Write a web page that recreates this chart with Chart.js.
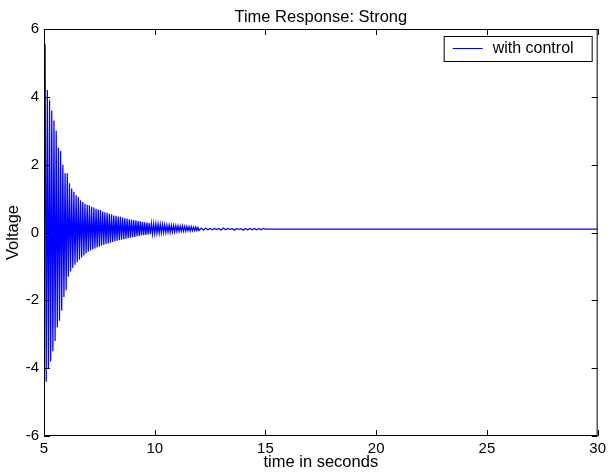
<!DOCTYPE html>
<html>
<head>
<meta charset="utf-8">
<script src="https://cdn.jsdelivr.net/npm/chart.js@4.4.1/dist/chart.umd.min.js"></script>
<style>
  html, body { margin: 0; padding: 0; background: #fff; }
</style>
</head>
<body>
<canvas id="timeResponseChart" width="610" height="472"></canvas>
<script>
const chartTitle = 'Time Response: Strong';
const seriesLabel = 'with control';
const xAxisLabel = 'time in seconds';
const yAxisLabel = 'Voltage';
const xTicks = [5, 10, 15, 20, 25, 30];
const yTicks = [-6, -4, -2, 0, 2, 4, 6];

// sample times (s)
const time = [
  5, 5.05, 5.1, 5.15, 5.2, 5.25, 5.3, 5.35, 5.4, 5.45,
  5.5, 5.55, 5.6, 5.65, 5.7, 5.75, 5.8, 5.85, 5.9, 5.95,
  6, 6.05, 6.1, 6.15, 6.2, 6.25, 6.3, 6.35, 6.4, 6.45,
  6.5, 6.55, 6.6, 6.65, 6.7, 6.75, 6.8, 6.85, 6.9, 6.95,
  7, 7.05, 7.1, 7.15, 7.2, 7.25, 7.3, 7.35, 7.4, 7.45,
  7.5, 7.55, 7.6, 7.65, 7.7, 7.75, 7.8, 7.85, 7.9, 7.95,
  8, 8.05, 8.1, 8.15, 8.2, 8.25, 8.3, 8.35, 8.4, 8.45,
  8.5, 8.55, 8.6, 8.65, 8.7, 8.75, 8.8, 8.85, 8.9, 8.95,
  9, 9.05, 9.1, 9.15, 9.2, 9.25, 9.3, 9.35, 9.4, 9.45,
  9.5, 9.55, 9.6, 9.65, 9.7, 9.75, 9.8, 9.85, 9.9, 9.95,
  10, 10.05, 10.1, 10.15, 10.2, 10.25, 10.3, 10.35, 10.4, 10.45,
  10.5, 10.55, 10.6, 10.65, 10.7, 10.75, 10.8, 10.85, 10.9, 10.95,
  11, 11.05, 11.1, 11.15, 11.2, 11.25, 11.3, 11.35, 11.4, 11.45,
  11.5, 11.55, 11.6, 11.65, 11.7, 11.75, 11.8, 11.85, 11.9, 11.95,
  12,
  12.1, 12.2, 12.3, 12.4, 12.5, 12.6, 12.7, 12.8, 12.9, 13,
  13.1, 13.2, 13.3, 13.4, 13.5, 13.6, 13.7, 13.8, 13.9, 14,
  14.1, 14.2, 14.3, 14.4, 14.5, 14.6, 14.7, 14.8, 14.9, 15,
  30
];

// voltage with control (V)
const voltage = [
  -0.8, 5.55, -4.4, 4.2, -4.0, 3.9, -3.8, 3.6, -3.5, 3.3,
  -3.2, 3.0, -2.8, 2.5, -2.6, 2.4, -2.3, 2.0, -1.9, 1.75,
  -1.7, 1.75, -1.3, 1.45, -1.15, 1.3, -1.05, 1.2, -0.95, 1.1,
  -0.88, 1.05, -0.8, 0.95, -0.74, 0.9, -0.68, 0.85, -0.62, 0.82,
  -0.57, 0.8, -0.53, 0.76, -0.5, 0.74, -0.47, 0.7, -0.44, 0.68,
  -0.41, 0.66, -0.38, 0.62, -0.36, 0.6, -0.34, 0.58, -0.32, 0.55,
  -0.3, 0.54, -0.28, 0.5, -0.26, 0.49, -0.24, 0.47, -0.23, 0.46,
  -0.21, 0.44, -0.2, 0.42, -0.18, 0.41, -0.17, 0.39, -0.15, 0.38,
  -0.14, 0.37, -0.13, 0.35, -0.11, 0.34, -0.1, 0.33, -0.09, 0.31,
  -0.08, 0.3, -0.07, 0.29, -0.06, 0.28, -0.05, 0.27, -0.04, 0.26,
  -0.03, 0.26, -0.02, 0.25, -0.02, 0.24, -0.01, 0.24, 0.0, 0.23,
  0.0, 0.22, 0.01, 0.22, 0.01, 0.21, 0.02, 0.21, 0.02, 0.2,
  0.03, 0.2, 0.03, 0.19, 0.04, 0.19, 0.04, 0.18, 0.04, 0.18,
  0.05, 0.17, 0.05, 0.17, 0.05, 0.16, 0.06, 0.16, 0.06, 0.15,
  0.06,
  0.13, 0.07, 0.13, 0.08, 0.12, 0.08, 0.12, 0.09, 0.12, 0.07,
  0.13, 0.08, 0.12, 0.09, 0.11, 0.07, 0.12, 0.09, 0.11, 0.07,
  0.12, 0.08, 0.12, 0.08, 0.12, 0.08, 0.12, 0.08, 0.12, 0.1,
  0.1
];

const fontFamily = '"Liberation Sans", Arial, Helvetica, sans-serif';

// matlab style box, inward ticks, title and legend
const matlabFrame = {
  id: 'matlabFrame',
  afterDatasetsDraw(chart) {
    const { ctx, chartArea: a, scales: { x, y } } = chart;
    const tickLen = 6;
    ctx.save();
    ctx.strokeStyle = '#000';
    ctx.lineWidth = 1;
    ctx.strokeRect(a.left + 0.5, a.top + 0.5, a.right - a.left - 1, a.bottom - a.top - 1);

    ctx.beginPath();
    xTicks.forEach(v => {
      const px = Math.round(x.getPixelForValue(v)) + 0.5;
      ctx.moveTo(px, a.bottom); ctx.lineTo(px, a.bottom - tickLen);
      ctx.moveTo(px, a.top); ctx.lineTo(px, a.top + tickLen);
    });
    yTicks.forEach(v => {
      const py = Math.round(y.getPixelForValue(v)) + 0.5;
      ctx.moveTo(a.left, py); ctx.lineTo(a.left + tickLen, py);
      ctx.moveTo(a.right, py); ctx.lineTo(a.right - tickLen, py);
    });
    ctx.stroke();

    // title over the axes box
    ctx.fillStyle = '#000';
    ctx.font = '16.5px ' + fontFamily;
    ctx.textAlign = 'center';
    ctx.textBaseline = 'alphabetic';
    ctx.fillText(chartTitle, (a.left + a.right) / 2, a.top - 7);

    // legend box
    const w = 148, h = 25;
    const lx = a.right - 6 - w, ly = a.top + 7;
    ctx.fillStyle = '#fff';
    ctx.fillRect(lx, ly, w, h);
    ctx.strokeRect(lx + 0.5, ly + 0.5, w, h);
    ctx.strokeStyle = '#0000ff';
    ctx.beginPath();
    ctx.moveTo(lx + 9, ly + 12.5);
    ctx.lineTo(lx + 39, ly + 12.5);
    ctx.stroke();
    ctx.fillStyle = '#000';
    ctx.font = '16px ' + fontFamily;
    ctx.textBaseline = 'middle';
    ctx.textAlign = 'left';
    ctx.fillText(seriesLabel, lx + 49, ly + 13);
    ctx.restore();
  }
};

const ctx = document.getElementById('timeResponseChart').getContext('2d');

new Chart(ctx, {
  type: 'line',
  data: {
    datasets: [{
      label: seriesLabel,
      data: time.map((t, i) => ({ x: t, y: voltage[i] })),
      borderColor: '#0000ff',
      borderWidth: 1.25,
      pointRadius: 0,
      tension: 0,
      fill: false
    }]
  },
  options: {
    responsive: false,
    animation: false,
    layout: { padding: { left: 0, right: 10, top: 29, bottom: 0 } },
    plugins: {
      legend: { display: false },
      tooltip: { enabled: false },
      title: { display: false }
    },
    scales: {
      x: {
        type: 'linear',
        min: 5,
        max: 30,
        afterBuildTicks: s => { s.ticks = xTicks.map(v => ({ value: v })); },
        afterFit: s => { s.height = 36; },
        grid: { display: false, drawTicks: false },
        border: { display: false },
        ticks: { color: '#000', padding: 4, maxRotation: 0, font: { family: fontFamily, size: 15 } },
        title: {
          display: true,
          text: xAxisLabel,
          color: '#000',
          font: { family: fontFamily, size: 16.5 },
          padding: { top: 0, bottom: 0 }
        }
      },
      y: {
        min: -6,
        max: 6,
        afterBuildTicks: s => { s.ticks = yTicks.map(v => ({ value: v })); },
        afterFit: s => { s.width = 44; },
        grid: { display: false, drawTicks: false },
        border: { display: false },
        ticks: { color: '#000', padding: 5, font: { family: fontFamily, size: 15 } },
        title: {
          display: true,
          text: yAxisLabel,
          color: '#000',
          font: { family: fontFamily, size: 16.5 },
          padding: { top: 4, bottom: 0 }
        }
      }
    }
  },
  plugins: [matlabFrame]
});
</script>
</body>
</html>
